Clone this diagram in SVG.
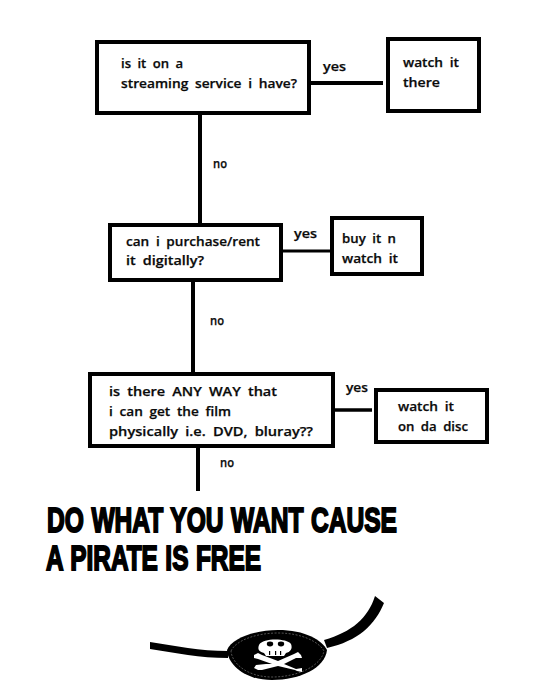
<svg xmlns="http://www.w3.org/2000/svg" width="540" height="699" viewBox="0 0 540 699">
<style>
.b{fill:#fff;stroke:#000;stroke-width:4}
.c{fill:none;stroke:#000;stroke-linecap:butt}
.t{font-family:"Open Sans","DejaVu Sans",sans-serif;font-size:13px;font-weight:600;fill:#0a0a0a;stroke:#0a0a0a;stroke-width:.25;word-spacing:3px}
.h{font-family:"Liberation Sans",Arial,sans-serif;font-size:35px;font-weight:700;fill:#000;stroke:#000;stroke-width:1.9;stroke-linejoin:miter;word-spacing:1px}
</style>
<rect width="540" height="699" fill="#fff"/>
<g id="connectors">
<path class="c" stroke-width="4" d="M311 83H383"/>
<path class="c" stroke-width="4" d="M200 115V224"/>
<path class="c" stroke-width="3" d="M283 251H330"/>
<path class="c" stroke-width="4" d="M193 280V375"/>
<path class="c" stroke-width="3.5" d="M335 410H372"/>
<path class="c" stroke-width="4" d="M198 445V491"/>
</g>
<g id="node-streaming"><rect class="b" x="97" y="42" width="212" height="71"/>
<text class="t" x="121" y="68" textLength="62" lengthAdjust="spacingAndGlyphs">is it on a</text>
<text class="t" x="121" y="88" textLength="176" lengthAdjust="spacingAndGlyphs">streaming service i have?</text></g>
<g id="node-watch-there"><rect class="b" x="388" y="39" width="91" height="72"/>
<text class="t" x="403" y="67" textLength="56" lengthAdjust="spacingAndGlyphs">watch it</text>
<text class="t" x="403" y="87" textLength="37" lengthAdjust="spacingAndGlyphs">there</text></g>
<g id="node-purchase"><rect class="b" x="110" y="225" width="171" height="55"/>
<text class="t" x="126" y="246" textLength="134" lengthAdjust="spacingAndGlyphs">can i purchase/rent</text>
<text class="t" x="126" y="265" textLength="78" lengthAdjust="spacingAndGlyphs">it digitally?</text></g>
<g id="node-buy"><rect class="b" x="332" y="218" width="90" height="56"/>
<text class="t" x="342" y="243" textLength="54" lengthAdjust="spacingAndGlyphs">buy it n</text>
<text class="t" x="342" y="263" textLength="56" lengthAdjust="spacingAndGlyphs">watch it</text></g>
<g id="node-physical"><rect class="b" x="90" y="374" width="243" height="72"/>
<text class="t" x="109" y="396" textLength="168" lengthAdjust="spacingAndGlyphs">is there ANY WAY that</text>
<text class="t" x="109" y="416" textLength="122" lengthAdjust="spacingAndGlyphs">i can get the film</text>
<text class="t" x="109" y="436" textLength="204" lengthAdjust="spacingAndGlyphs">physically i.e. DVD, bluray??</text></g>
<g id="node-disc"><rect class="b" x="376" y="390" width="111" height="52"/>
<text class="t" x="398" y="411" textLength="56" lengthAdjust="spacingAndGlyphs">watch it</text>
<text class="t" x="398" y="431" textLength="70" lengthAdjust="spacingAndGlyphs">on da disc</text></g>
<g id="labels">
<text class="t" x="323" y="71" textLength="23" lengthAdjust="spacingAndGlyphs">yes</text>
<text class="t" x="213" y="168" textLength="14" lengthAdjust="spacingAndGlyphs">no</text>
<text class="t" x="294" y="238" textLength="23" lengthAdjust="spacingAndGlyphs">yes</text>
<text class="t" x="210" y="325" textLength="14" lengthAdjust="spacingAndGlyphs">no</text>
<text class="t" x="346" y="392" textLength="22" lengthAdjust="spacingAndGlyphs">yes</text>
<text class="t" x="220" y="467" textLength="14" lengthAdjust="spacingAndGlyphs">no</text>
</g>
<g id="headline">
<text class="h" x="47" y="532" textLength="350" lengthAdjust="spacingAndGlyphs">DO WHAT YOU WANT CAUSE</text>
<text class="h" x="46" y="570" textLength="215" lengthAdjust="spacingAndGlyphs">A PIRATE IS FREE</text>
</g>
<g id="eyepatch">
<path d="M150 642C175 646 200 651 228 651L228 658C200 658 175 653 150 649Z" fill="#000"/>
<path d="M324 640C352 632 368 618 375 596L384 603C375 625 358 641 327 648Z" fill="#000"/>
<path d="M227 650C232 638 255 630 278 630C305 630 322 640 327 650C325 668 300 680 272 680C245 680 228 665 227 650Z" fill="#000"/>
<path d="M231 651C236 640 257 633 278 633C302 633 319 642 324 651C321 666 298 677 272 677C248 677 232 664 231 651Z" fill="none" stroke="#888" stroke-width=".6" stroke-dasharray="2 1.5"/>
<g fill="#fff">
<path d="M259 645C263 638 286 638 291 644C293 649 290 652 286 653L284 656H266L264 653C260 652 257 650 259 645Z"/>
<path d="M254 655L258 653L262 655L278 661L294 654L298 652L301 655L302 658L296 658L284 664L296 669L302 668L302 672L297 671L295 670L278 666L262 670L258 670L254 668L256 665L266 664L272 664L258 659L254 658Z"/>
</g>
<g fill="#000">
<ellipse cx="270" cy="644" rx="3.2" ry="2.4"/><ellipse cx="281" cy="644" rx="3.2" ry="2.4"/>
<rect x="269" y="651" width="1.2" height="4"/><rect x="275" y="651" width="1.2" height="4"/><rect x="280" y="651" width="1.2" height="4"/>
</g>
</g>
</svg>
